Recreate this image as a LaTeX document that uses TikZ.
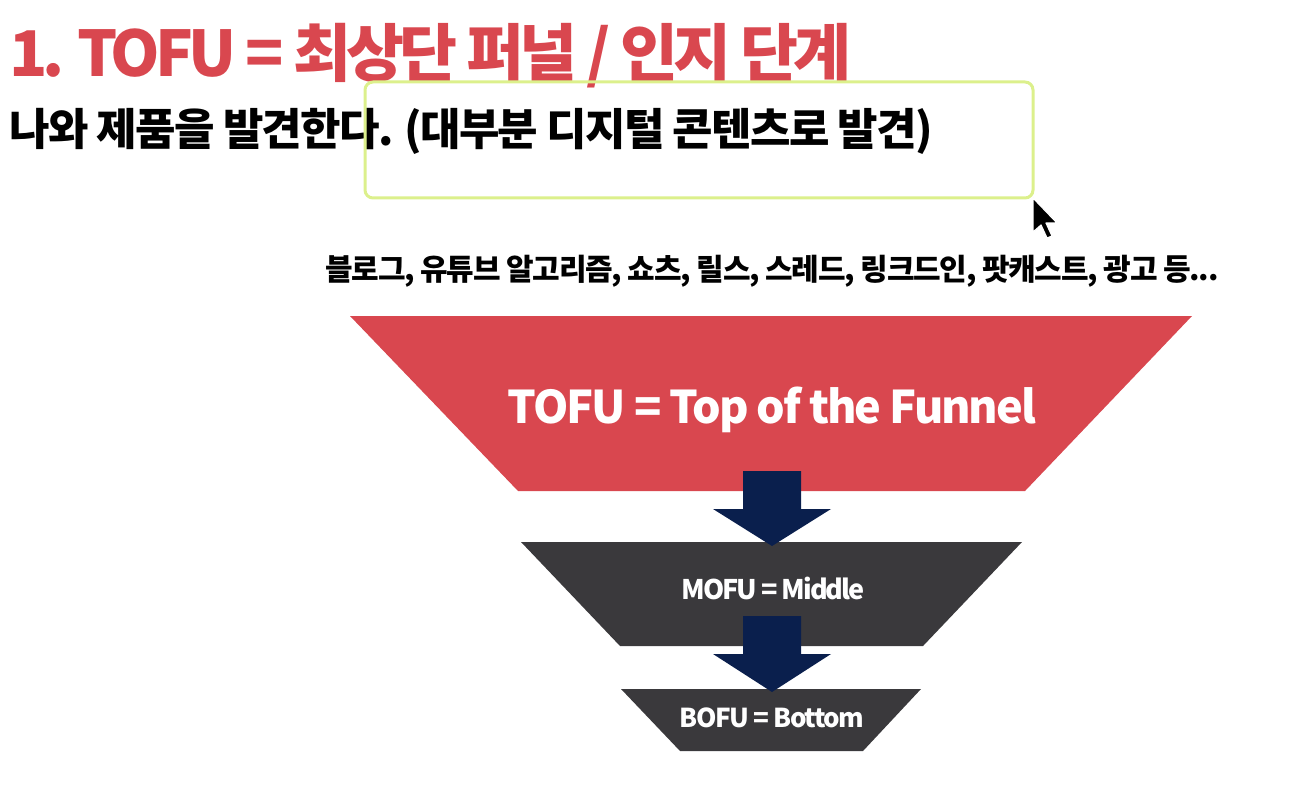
\documentclass[tikz,border=0pt]{standalone}
\usepackage{fontspec}
\setmainfont{Noto Sans CJK KR}
\definecolor{funnelred}{RGB}{217,71,79}
\definecolor{funnelgray}{RGB}{58,57,60}
\definecolor{arrownavy}{RGB}{10,31,77}
\definecolor{hilite}{RGB}{220,240,140}
\newcommand{\tight}[2]{\bfseries\fontsize{#1}{#1}\selectfont\addfontfeature{LetterSpace=#2}}
\tikzset{
  heading/.style={anchor=base west, inner sep=0pt, font=\bfseries},
  stagetext/.style={anchor=base, inner sep=0pt, text=white, font=\bfseries},
}
\begin{document}
\begin{tikzpicture}[x=0.5pt, y=-0.5pt]
    \useasboundingbox (0,0) rectangle (1309,796);
    % headings
    \node[heading, text=funnelred, font=\tight{31.5}{-8}] (title) at (9,77) {1. TOFU = 최상단 퍼널 / 인지 단계};
    \node[heading, font=\tight{22}{-4}] (subtitle) at (9,146) {나와 제품을 발견한다. (대부분 디지털 콘텐츠로 발견)};
    \draw[hilite, line width=1.5pt, rounded corners=4pt] (365,82) rectangle (1033,198);
    % mouse pointer
    \draw[white, fill=black, line width=0.6pt, line join=round] (1033,198) -- (1033,232) -- (1041,225) -- (1047,238) -- (1052,236) -- (1046,223) -- (1057,223) -- cycle;
    \node[heading, anchor=base, font=\tight{15}{-4.2}] (channels) at (772,281) {블로그, 유튜브 알고리즘, 쇼츠, 릴스, 스레드, 링크드인, 팟캐스트, 광고 등...};
    % Funnel
    \fill[funnelred] (350,316) -- (1192,316) -- (1025,491) -- (518,491) -- cycle;
    \fill[funnelgray] (521,542) -- (1022,542) -- (923,646) -- (620,646) -- cycle;
    \fill[funnelgray] (621,689) -- (921,689) -- (863,751) -- (680,751) -- cycle;
    \node[stagetext, font=\tight{22.5}{-4.6}] (tofu) at (772,423) {TOFU = Top of the Funnel};
    \node[stagetext, font=\tight{13.5}{-7.5}] (mofu) at (773,599) {MOFU = Middle};
    \node[stagetext, font=\tight{13}{-6}] (bofu) at (772,727) {BOFU = Bottom};
    % arrows between stages
    \foreach \t/\h/\b in {471/509/546, 616/654/692}
        \fill[arrownavy] (743,\t) -- (801,\t) -- (801,\h) -- (831,\h) -- (772,\b) -- (713,\h) -- (743,\h) -- cycle;
\end{tikzpicture}
\end{document}
